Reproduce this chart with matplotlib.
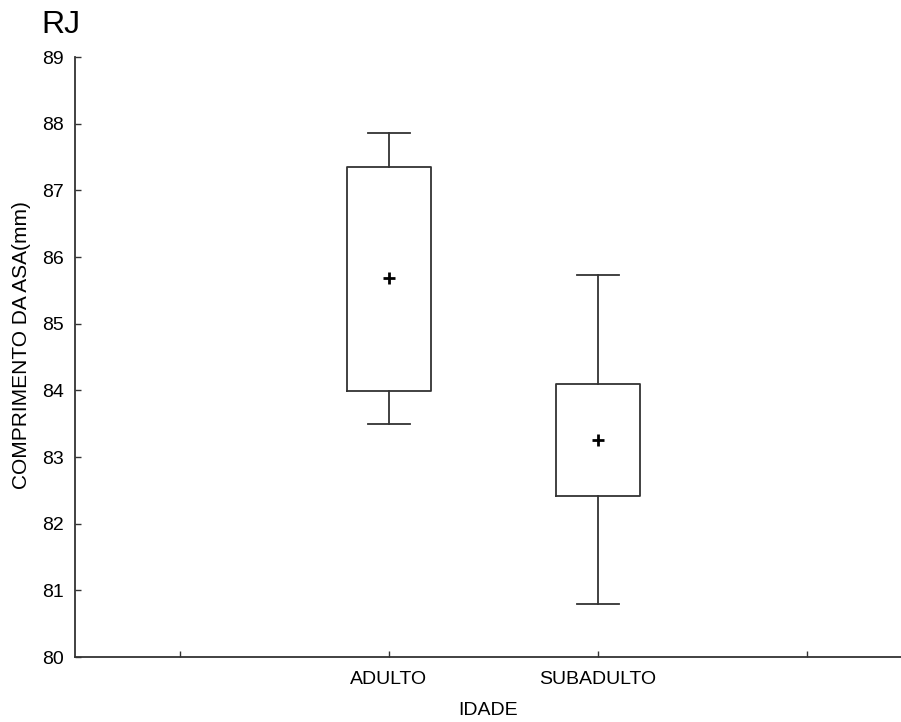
import matplotlib
matplotlib.use('Agg')
from matplotlib import pyplot as plt

plt.rcParams['font.family'] = ['Liberation Sans', 'DejaVu Sans']

groups = ['ADULTO', 'SUBADULTO']
positions = [2, 3]
whisker_low = [83.49, 80.80]
box_low = [83.99, 82.42]
means = [85.685, 83.255]
box_high = [87.345, 84.095]
whisker_high = [87.855, 85.73]

stats = []
for i in range(len(groups)):
    stats.append({'label': groups[i], 'whislo': whisker_low[i], 'q1': box_low[i],
                  'med': means[i], 'q3': box_high[i], 'whishi': whisker_high[i],
                  'mean': means[i]})

fig = plt.figure(figsize=(9.01, 7.22), dpi=100)
ax = fig.add_axes([75 / 901, 65 / 722, 826 / 901, 600 / 722])

line = dict(color='#333333', linewidth=1.3)
ax.bxp(stats, positions=positions, widths=0.4, capwidths=0.2,
       showmeans=True, showfliers=False,
       boxprops=line, whiskerprops=line, capprops=line,
       medianprops=dict(linestyle='none'),
       meanprops=dict(marker='+', markeredgecolor='black', markersize=8,
                      markeredgewidth=2))

ax.set_xlim(0.5, 4 + 94 / 209)
ax.set_ylim(80, 89)
ax.set_xticks([1, 2, 3, 4])
ax.set_xticklabels(['', 'ADULTO', 'SUBADULTO', ''])
ax.set_yticks(range(80, 90))

for s in ['top', 'right']:
    ax.spines[s].set_visible(False)
for s in ['left', 'bottom']:
    ax.spines[s].set_color('#333333')
    ax.spines[s].set_linewidth(1.3)

ax.tick_params(direction='in', length=4, width=1, color='#333333',
               labelsize=14, pad=10)
ax.tick_params(axis='y', pad=8)

ax.set_xlabel('IDADE', fontsize=14, labelpad=10)
ax.set_ylabel('COMPRIMENTO DA ASA(mm)', fontsize=15)
ax.yaxis.set_label_coords(-44 / 826, 0.52)
fig.text(41 / 901, 1 - 33 / 722, 'RJ', fontsize=23, va='baseline')

fig.savefig('out.png', dpi=100)
